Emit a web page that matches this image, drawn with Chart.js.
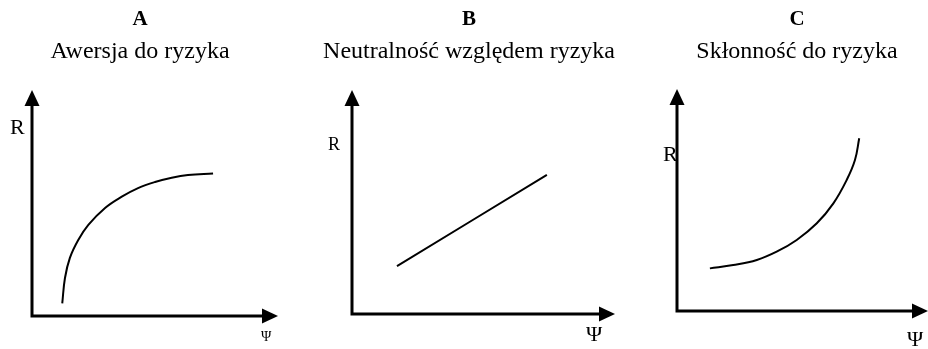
<!DOCTYPE html>
<html>
<head>
<meta charset="utf-8">
<script src="https://cdn.jsdelivr.net/npm/chart.js@4.4.1/dist/chart.umd.min.js"></script>
<style>
    html, body {
        margin: 0;
        padding: 0;
        background: #ffffff;
    }
    .stage {
        position: relative;
        width: 928px;
        height: 349px;
        overflow: hidden;
        font-family: "Liberation Serif", "Times New Roman", serif;
        color: #000000;
    }
    .stage canvas {
        position: absolute;
        left: 0;
        top: 0;
    }
    .label {
        position: absolute;
        line-height: 1;
        white-space: nowrap;
    }
    .title {
        position: absolute;
        line-height: 1;
        white-space: nowrap;
        transform: translateX(-50%);
    }
</style>
</head>
<body>
<div class="stage" id="stage"></div>

<script>
    /*
        ----------> DATA <----------
    */

    const panelLetters = ["A", "B", "C"];
    const panelTitles = ["Awersja do ryzyka", "Neutralność względem ryzyka", "Skłonność do ryzyka"];
    const axisNameY = "R";
    const axisNameX = "Ψ";

    // A - risk aversion (concave)
    const aversionX = [1.23, 1.34, 1.54, 1.88, 2.29, 2.97, 3.65, 4.31, 5.00, 5.68, 6.34, 7.36];
    const aversionY = [0.56, 1.68, 2.57, 3.36, 4.03, 4.78, 5.28, 5.66, 5.93, 6.12, 6.24, 6.31];

    // B - risk neutrality (straight line)
    const neutralX = [1.71, 7.41];
    const neutralY = [2.14, 6.21];

    // C - risk seeking (convex)
    const seekingX = [1.31, 2.24, 3.18, 3.97, 4.77, 5.57, 6.23, 6.76, 7.09, 7.26];
    const seekingY = [1.92, 2.07, 2.30, 2.67, 3.20, 3.95, 4.85, 5.90, 6.80, 7.78];

    const axisMin = 0;
    const axisMax = 10;

    /*
        ----------> LAYOUT <----------
    */

    const W = 928;
    const H = 349;
    const stage = document.getElementById("stage");

    // chart area of each panel: origin of axes -> arrow tips
    const panels = [
        { left: 32, top: 90, right: 278, bottom: 316, xs: aversionX, ys: aversionY },
        { left: 352, top: 90, right: 615, bottom: 314, xs: neutralX, ys: neutralY },
        { left: 677, top: 89, right: 928, bottom: 311, xs: seekingX, ys: seekingY },
    ];

    const arrowAxes = {
        id: "arrowAxes",
        afterDatasetsDraw(chart) {
            const ctx = chart.ctx;
            const x = chart.scales.x;
            const y = chart.scales.y;
            const x0 = x.getPixelForValue(axisMin);
            const x1 = x.getPixelForValue(axisMax);
            const y0 = y.getPixelForValue(axisMin);
            const y1 = y.getPixelForValue(axisMax);
            const len = 16;
            const half = 7.5;

            ctx.save();
            ctx.strokeStyle = "#000";
            ctx.fillStyle = "#000";
            ctx.lineWidth = 3;
            ctx.lineCap = "butt";

            ctx.beginPath();
            ctx.moveTo(x0, y1 + len);
            ctx.lineTo(x0, y0);
            ctx.lineTo(x1 - len, y0);
            ctx.stroke();

            ctx.beginPath();
            ctx.moveTo(x0, y1);
            ctx.lineTo(x0 - half, y1 + len);
            ctx.lineTo(x0 + half, y1 + len);
            ctx.closePath();
            ctx.fill();

            ctx.beginPath();
            ctx.moveTo(x1, y0);
            ctx.lineTo(x1 - len, y0 - half);
            ctx.lineTo(x1 - len, y0 + half);
            ctx.closePath();
            ctx.fill();
            ctx.restore();
        }
    };

    panels.forEach(p => {
        const canvas = document.createElement("canvas");
        canvas.width = W;
        canvas.height = H;
        stage.append(canvas);

        new Chart(canvas, {
            type: "scatter",
            data: {
                datasets: [
                    {
                        data: p.xs.map((v, i) => ({ x: v, y: p.ys[i] })),
                        showLine: true,
                        borderColor: "#000",
                        borderWidth: 2,
                        pointRadius: 0,
                        tension: 0.4,
                    }
                ]
            },
            options: {
                responsive: false,
                animation: false,
                devicePixelRatio: 1,
                layout: {
                    padding: { left: p.left, top: p.top, right: W - p.right, bottom: H - p.bottom },
                },
                plugins: {
                    legend: { display: false },
                    tooltip: { enabled: false },
                },
                scales: {
                    x: { type: "linear", min: axisMin, max: axisMax, display: false },
                    y: { type: "linear", min: axisMin, max: axisMax, display: false },
                },
            },
            plugins: [arrowAxes],
        });
    });

    /*
        ----------> TEXTS <----------
    */

    function addText(cls, text, left, top, size, bold) {
        const el = document.createElement("div");
        el.classList.add(cls);
        el.textContent = text;
        el.style.left = left + "px";
        el.style.top = top + "px";
        el.style.fontSize = size + "px";
        if (bold) el.style.fontWeight = "bold";
        stage.append(el);
    }

    const titleCenters = [140, 469, 797];
    titleCenters.forEach((cx, i) => {
        addText("title", panelLetters[i], cx, 8, 21, true);
        addText("title", panelTitles[i], cx, 38, 24, false);
    });

    addText("label", axisNameY, 10, 116, 22);
    addText("label", axisNameX, 261, 330, 14);

    addText("label", axisNameY, 328, 135, 18);
    addText("label", axisNameX, 586, 323, 22);

    addText("label", axisNameY, 663, 143, 22);
    addText("label", axisNameX, 907, 328, 22);
</script>
</body>
</html>
